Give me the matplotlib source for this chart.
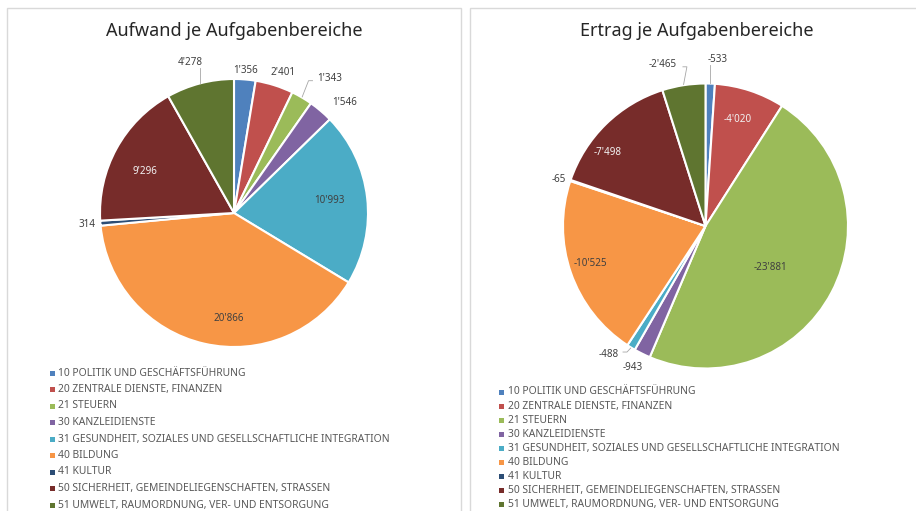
import numpy as np
import matplotlib
matplotlib.use("Agg")
import matplotlib.pyplot as plt
from matplotlib.patches import Rectangle

plt.rcParams['font.family'] = ['Noto Sans', 'DejaVu Sans']

# ---- data ----
categories = [
    "10 POLITIK UND GESCHÄFTSFÜHRUNG",
    "20 ZENTRALE DIENSTE, FINANZEN",
    "21 STEUERN",
    "30 KANZLEIDIENSTE",
    "31 GESUNDHEIT, SOZIALES UND GESELLSCHAFTLICHE INTEGRATION",
    "40 BILDUNG",
    "41 KULTUR",
    "50 SICHERHEIT, GEMEINDELIEGENSCHAFTEN, STRASSEN",
    "51 UMWELT, RAUMORDNUNG, VER- UND ENTSORGUNG",
]
aufwand = [1356, 2401, 1343, 1546, 10993, 20866, 314, 9296, 4278]
ertrag = [-533, -4020, -23881, -943, -488, -10525, -65, -7498, -2465]
titles = ["Aufwand je Aufgabenbereiche", "Ertrag je Aufgabenbereiche"]

colors = ["#4F81BD", "#C0504D", "#9BBB59", "#8064A2", "#4BACC6",
          "#F79646", "#2C4D75", "#772C2A", "#5F7530"]

# label placement styling: (radius factor, angle offset deg, text colour, leader)
dark = "#404040"
light = "#F2F2F2"
left_lab = [(1.07, 0, dark, False), (1.11, -1.6, dark, False), (1.23, -5, dark, True),
            (1.17, -4.6, dark, False), (0.72, 1, dark, False), (0.79, 10, dark, False),
            (1.10, 0, dark, False), (0.73, 3.7, light, False), (1.17, 1.6, dark, True)]
right_lab = [(1.17, -2.4, dark, True), (0.78, 1.2, light, False), (0.54, -5, dark, False),
             (1.115, -1, dark, False), (1.125, -5.5, dark, True), (0.853, -1, dark, False),
             (1.08, 1.2, dark, False), (0.855, 8.8, light, False), (1.17, 6, dark, True)]

W, H = 916, 511
fig = plt.figure(figsize=(W / 100, H / 100), dpi=100)
fig.patch.set_facecolor("white")

def fx(px):
    return px / W

def fy(py):
    return 1 - py / H

# panel borders
for (x0, x1) in [(7, 461), (470, 930)]:
    fig.add_artist(Rectangle((fx(x0), fy(530)), fx(x1 - x0), (530 - 8) / H,
                             transform=fig.transFigure, facecolor="none",
                             edgecolor="#D9D9D9", linewidth=1.0, clip_on=False))

def fmt(v):
    return f"{v:,}".replace(",", "'")

def draw_pie(values, cx, cy, R, labstyle, title, tx, ty):
    ax = fig.add_axes([fx(cx - R), fy(cy + R), fx(2 * R), 2 * R / H])
    sizes = np.abs(np.array(values, dtype=float))
    ax.pie(sizes, colors=colors, startangle=90, counterclock=False,
           wedgeprops=dict(edgecolor="white", linewidth=1.5))
    ax.set_xlim(-1, 1)
    ax.set_ylim(-1, 1)
    ax.set_aspect("equal")
    ax.axis("off")
    total = sizes.sum()
    cum = np.cumsum(sizes) - sizes / 2
    px = 1.0 / R  # one pixel in data units
    for i, v in enumerate(values):
        mid = 90 - cum[i] / total * 360
        r, dth, col, leader = labstyle[i]
        ang = np.deg2rad(mid + dth)
        x, y = r * np.cos(ang), r * np.sin(ang)
        s = fmt(v)
        ax.text(x, y, s, ha="center", va="center", fontsize=7.1,
                color=col, clip_on=False)
        if leader:
            m = np.deg2rad(mid)
            ex, ey = 1.005 * np.cos(m), 1.005 * np.sin(m)
            hw = len(s) * 3.0 * px
            hh = 5.0 * px
            if x - hw - 2 * px <= ex <= x + hw + 2 * px:
                # vertical to the label's lower/upper edge
                ty_ = y - hh * np.sign(y - ey) * -1 if False else y + hh * np.sign(ey - y)
                ax.plot([ex, ex], [ey, ty_], color="#A6A6A6", lw=0.6, clip_on=False)
            else:
                side = np.sign(ex - x)
                tx_ = x + side * (hw + 2 * px)
                kx = tx_ + side * 4 * px
                ky = y + 2 * px * np.sign(ey - y)
                ax.plot([ex, kx, tx_], [ey, ky, ky], color="#A6A6A6", lw=0.6,
                        clip_on=False)
    fig.text(fx(tx), fy(ty), title, ha="center", va="center", fontsize=13,
             color="#262626")

draw_pie(aufwand, 234, 213, 134, left_lab, titles[0], 234, 31)
draw_pie(ertrag, 705.5, 226, 142.5, right_lab, titles[1], 697, 31)

def draw_legend(x_marker, y_first, spacing):
    for i, cat in enumerate(categories):
        yc = y_first + i * spacing
        fig.add_artist(Rectangle((fx(x_marker - 2.5), fy(yc + 2.5)), 5 / W, 5 / H,
                                 transform=fig.transFigure, facecolor=colors[i],
                                 edgecolor="none"))
        fig.text(fx(x_marker + 6), fy(yc), cat, ha="left", va="center",
                 fontsize=7.45, color="#595959")

draw_legend(52, 373, 16.5)
draw_legend(502, 392, 14.1)

fig.savefig("out.png", dpi=100, facecolor="white")
